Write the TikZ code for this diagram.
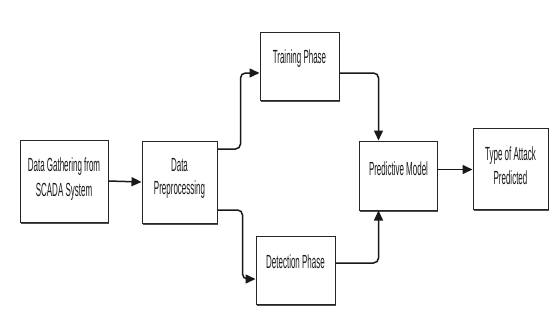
\documentclass[tikz,border=0pt]{standalone}
\usepackage{fontspec}
\newfontfamily\nf[FakeStretch=0.42]{Liberation Sans}
\usetikzlibrary{arrows.meta,shadows}
\newcommand\upby[2]{\raisebox{#1}[\height][\depth]{#2}}
\begin{document}
\begin{tikzpicture}[x=1pt,y=-1pt,
  box/.style={draw=black!85, line width=1pt, fill=white, align=center, inner sep=0pt,
    font=\nf\fontsize{19}{23}\selectfont, text=black!90,
    drop shadow={shadow xshift=0.8pt, shadow yshift=-1.6pt, fill=black!70, opacity=1}},
  conn/.style={draw=black!90, line width=1.5pt, rounded corners=5pt,
    -{Triangle[length=10pt,width=9pt]}}]
\useasboundingbox (0,0) rectangle (550,324);
\fill[white] (0,0) rectangle (550,324);
\node[box, minimum width=88pt, minimum height=82pt] (b1) at (64,181) {\upby{2pt}{\shortstack{Data Gathering from\\[5pt]SCADA System}}};
\node[box, minimum width=75pt, minimum height=82pt] (b2) at (179.5,182) {\upby{4pt}{\shortstack{Data\\[6pt]Preprocessing}}};
\node[box, minimum width=79pt, minimum height=68pt] (tr) at (299.5,66) {\upby{7pt}{Training Phase}};
\node[box, minimum width=79pt, minimum height=68pt] (dt) at (295.5,270) {\upby{8pt}{Detection Phase}};
\node[box, minimum width=78pt, minimum height=69pt] (pm) at (398.5,175.5) {\upby{7pt}{Predictive Model}};
\node[box, minimum width=75pt, minimum height=81pt] (ty) at (510.5,168.5) {\upby{3pt}{\shortstack{Type of Attack\\[3pt]Predicted}}};
\draw[conn] (b1.east) -- (b2.west);
\draw[conn] ([yshift=33pt]b2.east) -- ++(23,0) |- ([yshift=-7pt]tr.west);
\draw[conn] ([yshift=-28pt]b2.east) -- ++(25,0) |- ([yshift=-9pt]dt.west);
\draw[conn] ([yshift=-7pt]tr.east) -| ([xshift=-20pt]pm.north);
\draw[conn] ([yshift=7pt]dt.east) -| ([xshift=-20pt]pm.south);
\draw[conn] ([yshift=6pt]pm.east) -- ([yshift=6pt]pm.east -| ty.west);
\end{tikzpicture}
\end{document}
